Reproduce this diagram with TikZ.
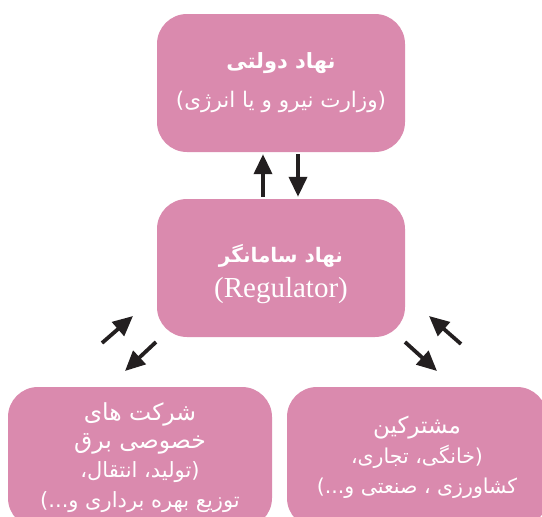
\documentclass[tikz,border=0pt]{standalone}
\usepackage{fontspec}
\setmainfont{Liberation Serif}
\newfontfamily\fa[Script=Arabic]{DejaVu Sans}
\TeXXeTstate=1
\usetikzlibrary{arrows.meta, positioning}
\definecolor{boxcolor}{RGB}{218,138,174}
\definecolor{arrowcolor}{RGB}{35,31,32}
\tikzstyle{block} = [rectangle, fill=boxcolor, text=white, align=center, rounded corners=30pt, inner sep=0pt]
\tikzstyle{arrow} = [-{Triangle[length=20pt,width=18pt]}, line width=3.8pt, color=arrowcolor]
\newcommand{\fatxt}[1]{{\fa\beginR #1\endR}}

\begin{document}
\begin{tikzpicture}[x=1pt, y=-1pt]
    \clip (0,0) rectangle (542,517);
    % Government
    \node[block, minimum width=248pt, minimum height=138pt, font=\fontsize{21.5}{39}\selectfont] (gov) at (281,83)
        {\fatxt{\bfseries\fontsize{21}{39}\selectfont نهاد دولتی}\\\fatxt{(وزارت نیرو و یا انرژی)}};
    % Regulator
    \node[block, minimum width=248pt, minimum height=138pt] (reg) at (281,268) {};
    \node[text=white, align=center, font=\fontsize{20}{35}\selectfont] (regtext) at ([yshift=-6pt]reg.center)
        {\fatxt{\bfseries نهاد سامانگر}\\{\fontsize{29}{35}\selectfont (Regulator)}};
    % Companies and customers
    \node[block, minimum width=264pt, minimum height=141pt, font=\fontsize{21}{28.5}\selectfont] (prod) at (140,457.5)
        {\fatxt{\fontsize{23.5}{28}\selectfont شرکت های}\\\fatxt{\fontsize{23.5}{28}\selectfont خصوصی برق}\\\fatxt{(تولید، انتقال،}\\[2pt]\fatxt{توزیع بهره برداری و...)}};
    \node[block, minimum width=260pt, minimum height=141pt, font=\fontsize{20.5}{30}\selectfont] (cons) at (417,457.5)
        {\fatxt{\fontsize{23}{30}\selectfont مشترکین}\\\fatxt{(خانگی، تجاری،}\\\fatxt{کشاورزی ، صنعتی و...)}};

    % Arrows
    \draw[arrow, shorten <=2pt, shorten >=2pt] ([xshift=-18pt]reg.north) -- ([xshift=-18pt]gov.south);
    \draw[arrow, shorten <=2pt, shorten >=2pt] ([xshift=17pt]gov.south) -- ([xshift=17pt]reg.north);
    \coordinate (la) at (102,343);
    \coordinate (lb) at (133,316);
    \coordinate (lc) at (156,342);
    \coordinate (ld) at (125,371);
    \coordinate (ra) at (461,344);
    \coordinate (rb) at (429,316);
    \coordinate (rc) at (405,342);
    \coordinate (rd) at (437,371);
    \draw[arrow] (la) -- (lb);
    \draw[arrow] (lc) -- (ld);
    \draw[arrow] (ra) -- (rb);
    \draw[arrow] (rc) -- (rd);
\end{tikzpicture}
\end{document}
